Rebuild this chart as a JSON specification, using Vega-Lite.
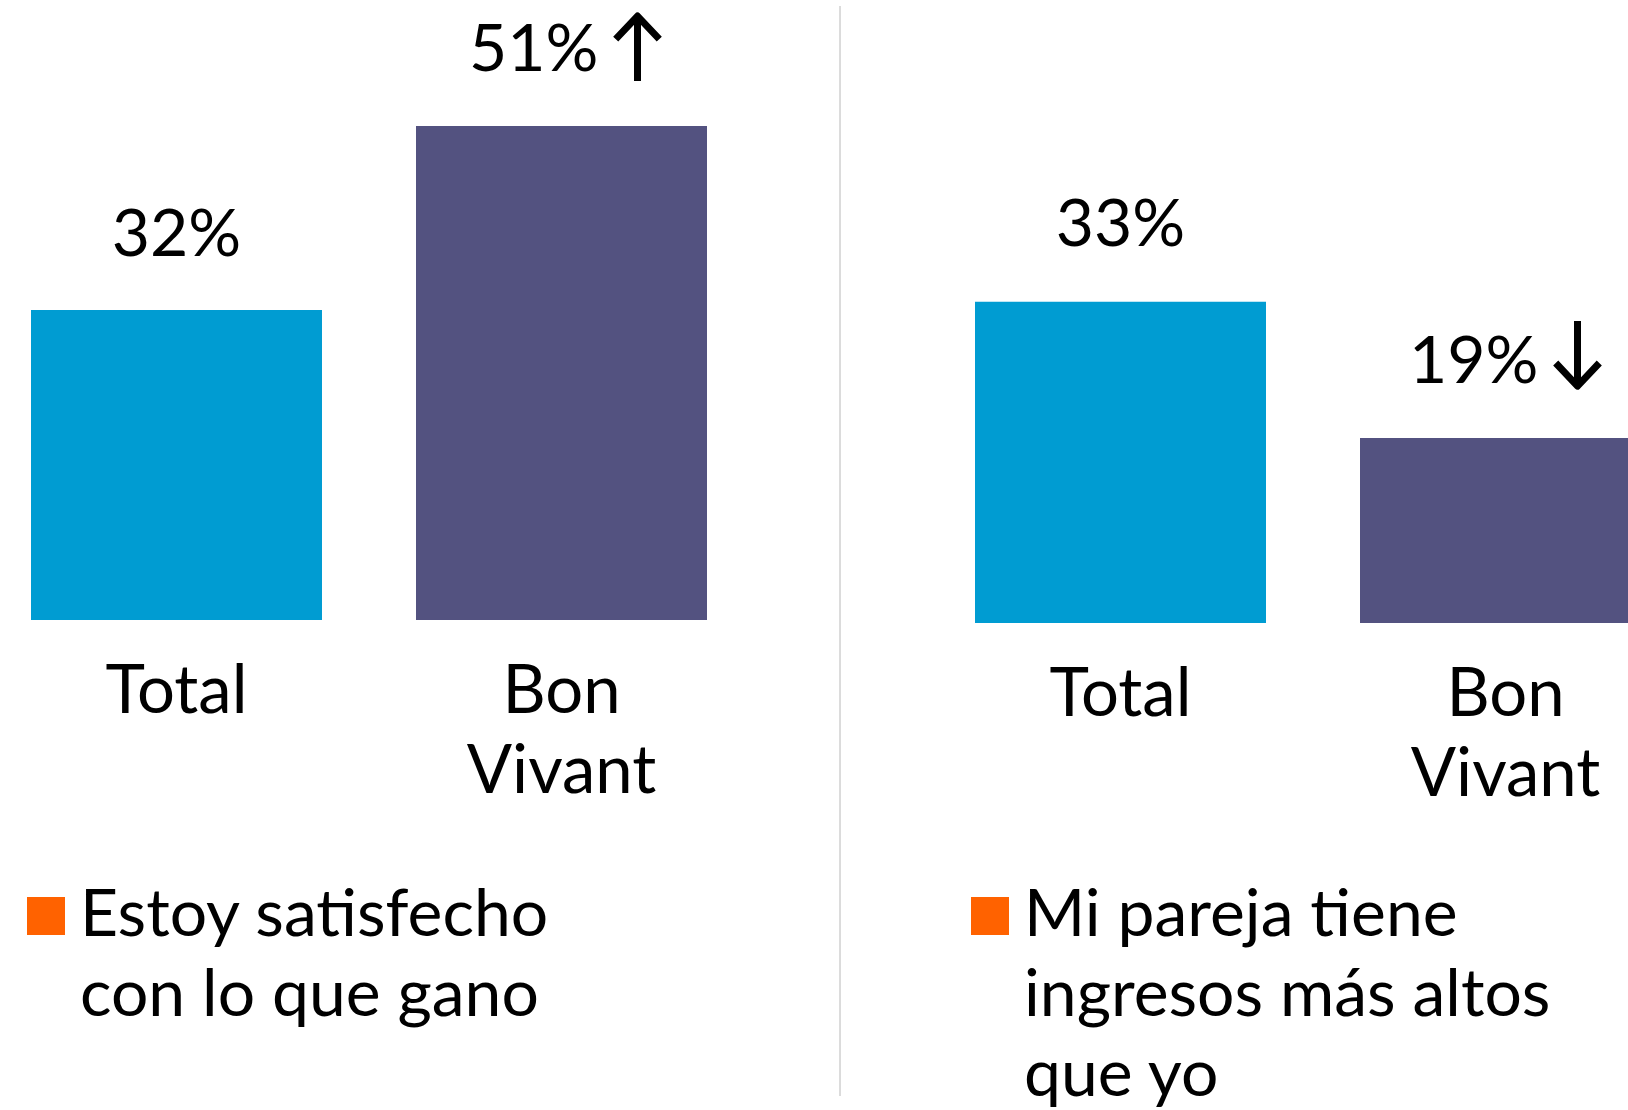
{
  "$schema": "https://vega.github.io/schema/vega-lite/v6.json",
  "padding": {"left": 0, "right": 0, "top": 5, "bottom": 0},
  "background": "white",
  "config": {
    "view": {"stroke": null},
    "style": {"guide-label": {"lineHeight": 80}},
    "text": {"font": "Lato", "color": "#000000"}
  },
  "datasets": {
    "encuesta": [
      {"pregunta": "Estoy satisfecho con lo que gano", "grupo": "Total", "valor": 0.32, "tendencia": ""},
      {"pregunta": "Estoy satisfecho con lo que gano", "grupo": "Bon Vivant", "valor": 0.51, "tendencia": "sube"},
      {"pregunta": "Mi pareja tiene ingresos más altos que yo", "grupo": "Total", "valor": 0.33, "tendencia": ""},
      {"pregunta": "Mi pareja tiene ingresos más altos que yo", "grupo": "Bon Vivant", "valor": 0.19, "tendencia": "baja"}
    ]
  },
  "spacing": 101,
  "hconcat": [
    {
      "width": 738,
      "height": 614,
      "data": {"name": "encuesta"},
      "transform": [{"filter": "datum.pregunta == 'Estoy satisfecho con lo que gano'"}],
      "encoding": {
        "x": {
          "field": "grupo", "type": "nominal", "sort": ["Total", "Bon Vivant"],
          "scale": {"paddingInner": 0.24416, "paddingOuter": 0.08052},
          "axis": {"title": null, "domain": false, "ticks": false, "tickSize": 0, "labelPadding": 39, "labelFont": "Lato", "labelFontSize": 67, "labelColor": "#000000", "labelAngle": 0, "labelExpr": "split(datum.label, ' ')", "labelLineHeight": 80, "labelLimit": 0}
        },
        "y": {"field": "valor", "type": "quantitative", "scale": {"domain": [0, 0.634]}, "axis": null}
      },
      "layer": [
        {
          "mark": {"type": "bar"},
          "encoding": {"color": {"field": "grupo", "type": "nominal", "scale": {"domain": ["Total", "Bon Vivant"], "range": ["#009CD2", "#535280"]}, "legend": null}}
        },
        {
          "transform": [{"filter": "datum.tendencia == ''"}],
          "mark": {"type": "text", "baseline": "alphabetic", "align": "center", "dy": -54, "fontSize": 66, "font": "Lato"},
          "encoding": {"text": {"field": "valor", "format": ".0%"}}
        },
        {
          "transform": [{"filter": "datum.tendencia != ''"}],
          "mark": {"type": "text", "baseline": "alphabetic", "align": "right", "dx": 37, "dy": -55, "fontSize": 66, "font": "Lato"},
          "encoding": {"text": {"field": "valor", "format": ".0%"}}
        },
        {
          "transform": [{"filter": "datum.tendencia != ''"}],
          "mark": {"type": "point", "filled": false, "opacity": 1, "stroke": "#000000", "strokeWidth": 7, "strokeJoin": "round", "strokeCap": "butt", "size": 4356, "xOffset": 76, "yOffset": -78},
          "encoding": {
            "shape": {"field": "tendencia", "type": "nominal", "scale": {"domain": ["sube", "baja"], "range": ["M0,1L0,-0.94M-0.66,-0.27L0,-0.97L0.66,-0.27", "M0,-1L0,0.94M-0.66,0.27L0,0.97L0.66,0.27"]}, "legend": null}
          }
        },
        {
          "mark": {"type": "square", "opacity": 0},
          "encoding": {
            "color": {
              "field": "pregunta", "type": "nominal", "scale": {"range": ["#FF6200"]},
              "legend": {"orient": "bottom", "title": null, "symbolType": "square", "symbolSize": 1444, "symbolStrokeWidth": 0, "symbolOpacity": 1, "symbolOffset": 13, "padding": 0, "offset": 78, "labelFont": "Lato", "labelFontSize": 66, "labelColor": "#000000", "labelLimit": 0, "labelOffset": 1, "labelBaseline": "middle", "labelExpr": "[slice(datum.label, 0, 16), slice(datum.label, 17)]"}
            }
          }
        }
      ],
      "resolve": {"scale": {"color": "independent"}}
    },
    {
      "width": 3,
      "height": 1090,
      "data": {"values": [{"separador": 0}]},
      "mark": {"type": "rule", "color": "#B8B8B8", "strokeWidth": 1},
      "encoding": {
        "x": {"field": "separador", "type": "quantitative", "scale": {"domain": [0, 1]}, "axis": null}
      }
    },
    {
      "width": 685,
      "height": 617,
      "data": {"name": "encuesta"},
      "transform": [{"filter": "datum.pregunta == 'Mi pareja tiene ingresos más altos que yo'"}],
      "encoding": {
        "x": {
          "field": "grupo", "type": "nominal", "sort": ["Total", "Bon Vivant"],
          "scale": {"range": [0, 738], "paddingInner": 0.24416, "paddingOuter": 0.08052},
          "axis": {"title": null, "domain": false, "ticks": false, "tickSize": 0, "labelPadding": 39, "labelFont": "Lato", "labelFontSize": 67, "labelColor": "#000000", "labelAngle": 0, "labelExpr": "split(datum.label, ' ')", "labelLineHeight": 80, "labelLimit": 0}
        },
        "y": {"field": "valor", "type": "quantitative", "scale": {"domain": [0, 0.634]}, "axis": null}
      },
      "layer": [
        {
          "mark": {"type": "bar", "clip": true},
          "encoding": {"color": {"field": "grupo", "type": "nominal", "scale": {"domain": ["Total", "Bon Vivant"], "range": ["#009CD2", "#535280"]}, "legend": null}}
        },
        {
          "transform": [{"filter": "datum.tendencia == ''"}],
          "mark": {"type": "text", "baseline": "alphabetic", "align": "center", "dy": -56, "fontSize": 66, "font": "Lato"},
          "encoding": {"text": {"field": "valor", "format": ".0%"}}
        },
        {
          "transform": [{"filter": "datum.tendencia != ''"}],
          "mark": {"type": "text", "baseline": "alphabetic", "align": "right", "dx": 33, "dy": -55, "fontSize": 66, "font": "Lato"},
          "encoding": {"text": {"field": "valor", "format": ".0%"}}
        },
        {
          "transform": [{"filter": "datum.tendencia != ''"}],
          "mark": {"type": "point", "filled": false, "opacity": 1, "stroke": "#000000", "strokeWidth": 7, "strokeJoin": "round", "strokeCap": "butt", "size": 4356, "xOffset": 72, "yOffset": -84},
          "encoding": {
            "shape": {"field": "tendencia", "type": "nominal", "scale": {"domain": ["sube", "baja"], "range": ["M0,1L0,-0.94M-0.66,-0.27L0,-0.97L0.66,-0.27", "M0,-1L0,0.94M-0.66,0.27L0,0.97L0.66,0.27"]}, "legend": null}
          }
        },
        {
          "mark": {"type": "square", "opacity": 0},
          "encoding": {
            "color": {
              "field": "pregunta", "type": "nominal", "scale": {"range": ["#FF6200"]},
              "legend": {"orient": "bottom", "title": null, "symbolType": "square", "symbolSize": 1444, "symbolStrokeWidth": 0, "symbolOpacity": 1, "symbolOffset": 13, "padding": 0, "offset": 75, "labelFont": "Lato", "labelFontSize": 66, "labelColor": "#000000", "labelLimit": 0, "labelOffset": 1, "labelBaseline": "middle", "labelExpr": "[slice(datum.label, 0, 15), slice(datum.label, 16, 34), slice(datum.label, 35)]"}
            }
          }
        }
      ],
      "resolve": {"scale": {"color": "independent"}}
    }
  ]
}
